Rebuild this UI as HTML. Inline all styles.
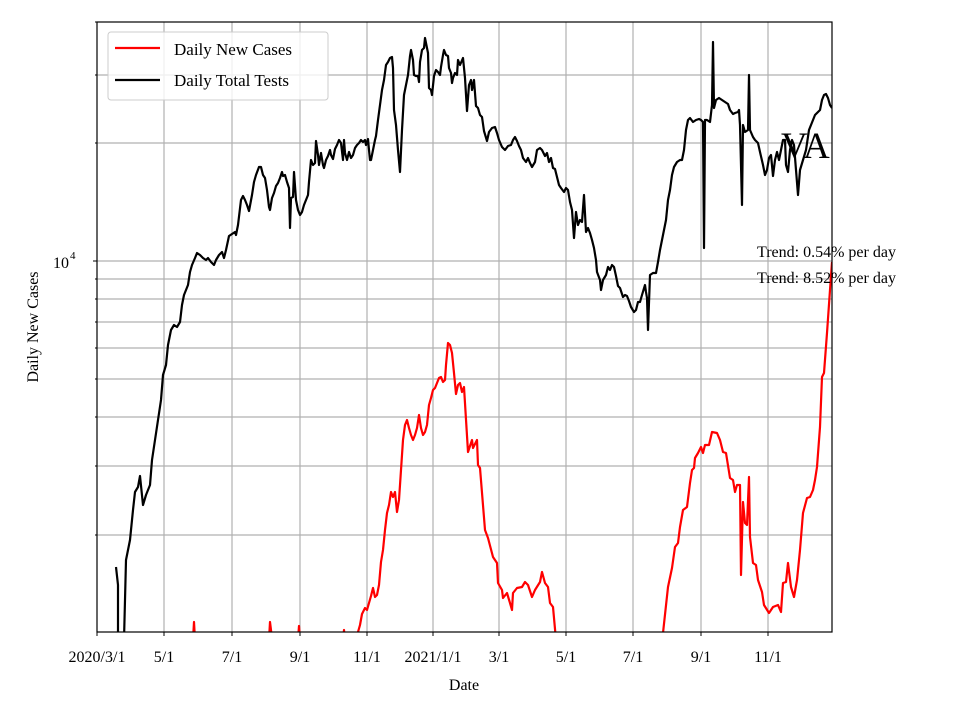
<!DOCTYPE html><html><head><style>body{margin:0;background:#fff}svg{font-family:"Liberation Serif",serif}</style></head><body>
<svg width="960" height="720" viewBox="0 0 960 720" xmlns="http://www.w3.org/2000/svg">
<rect width="960" height="720" fill="#fff"/>
<g stroke="#b0b0b0" stroke-width="1.2">
<line x1="164" y1="22" x2="164" y2="632"/><line x1="232" y1="22" x2="232" y2="632"/><line x1="300" y1="22" x2="300" y2="632"/><line x1="367" y1="22" x2="367" y2="632"/><line x1="433" y1="22" x2="433" y2="632"/><line x1="499" y1="22" x2="499" y2="632"/><line x1="566" y1="22" x2="566" y2="632"/><line x1="633" y1="22" x2="633" y2="632"/><line x1="701" y1="22" x2="701" y2="632"/><line x1="768" y1="22" x2="768" y2="632"/>
<line x1="97" y1="75" x2="832" y2="75"/><line x1="97" y1="143" x2="832" y2="143"/><line x1="97" y1="261" x2="832" y2="261"/><line x1="97" y1="279" x2="832" y2="279"/><line x1="97" y1="299" x2="832" y2="299"/><line x1="97" y1="322" x2="832" y2="322"/><line x1="97" y1="348" x2="832" y2="348"/><line x1="97" y1="379" x2="832" y2="379"/><line x1="97" y1="417" x2="832" y2="417"/><line x1="97" y1="466" x2="832" y2="466"/><line x1="97" y1="535" x2="832" y2="535"/>
</g>
<svg x="97" y="22" width="735" height="610" viewBox="97 22 735 610" overflow="hidden">
<g fill="none" stroke-width="2.2" stroke-linejoin="round">
<polyline stroke="#000" points="116,567 118,585 118,640 124,640 126,560 130,540 133,510 135,492 138,487 140,476 143,505 146,495 150,485 152,460 155,440 158,420 161,400 163,375 166,365 168,345 171,330 174,325 177,327 180,322 182,305 184,295 186,290 188,285 190,272 192,265 195,258 197,253 200,255 203,258 206,260 208,258 211,262 214,265 216,260 219,255 222,252 224,258 226,250 229,236 232,234 235,232 236,235 238,225 241,200 243,196 245,200 247,205 249,211 252,195 254,182 256,175 259,167 261,167 263,175 265,178 267,190 269,207 270,210 272,198 274,193 276,186 278,183 280,178 282,172 283,176 285,175 287,182 289,188 290,228 291,198 293,197 294,172 296,200 298,210 300,215 302,212 304,205 306,200 308,195 309,182 311,160 313,165 315,163 316,141 318,155 319,165 321,153 323,165 324,168 326,160 328,156 330,150 331,155 333,159 335,149 337,145 339,140 341,143 343,160 344,140 345,153 347,160 349,152 351,158 353,155 355,148 357,145 359,143 361,140 363,142 365,140 366,145 368,139 369,150 370,160 371,160 373,150 375,140 376,136 378,120 380,105 382,90 384,80 386,65 388,62 390,58 392,57 393,68 394,110 396,125 398,150 400,172 402,130 404,95 406,85 408,75 410,56 411,50 413,60 414,75 416,76 418,76 419,82 420,62 422,50 424,48 425,38 427,48 428,53 429,88 431,90 432,95 434,76 436,70 438,72 440,75 441,67 443,55 444,50 446,55 448,56 449,68 451,73 452,83 453,78 455,73 457,75 458,60 460,65 463,58 465,78 467,111 469,85 471,80 472,90 474,80 476,106 478,108 480,115 482,117 484,131 487,141 489,132 492,128 495,127 497,133 499,140 502,147 505,150 508,146 511,145 513,140 515,137 517,141 519,146 521,150 523,158 526,162 528,158 530,163 532,167 535,162 537,150 540,148 542,150 545,156 547,153 549,162 551,158 553,168 555,169 557,177 559,185 561,188 564,192 566,188 568,190 570,202 572,210 574,238 576,212 578,225 580,220 582,222 584,195 586,232 588,228 590,233 592,240 594,248 596,260 597,272 600,280 601,290 603,280 606,275 608,267 610,270 612,265 614,267 616,276 618,286 620,288 623,297 625,295 627,296 629,301 631,307 634,312 636,310 638,302 640,302 642,295 645,285 646,292 647,298 648,330 650,275 653,273 656,273 658,262 660,250 662,240 664,230 666,220 668,200 670,190 672,175 674,167 677,162 680,160 682,160 684,150 686,130 688,120 690,118 693,122 696,120 699,119 701,120 703,122 704,248 705,120 707,120 710,122 712,105 713,42 714,108 716,100 719,98 722,100 725,102 728,104 730,110 733,114 735,113 738,112 739,110 740,125 742,205 743,125 745,132 748,130 749,75 750,130 753,137 755,140 758,143 760,152 763,165 765,175 767,170 769,158 771,155 773,176 775,160 777,152 779,160 781,150 783,140 785,140 786,165 788,172 790,150 792,140 794,145 796,170 798,195 800,170 803,160 806,150 809,130 811,125 813,120 815,115 818,112 820,110 822,100 824,95 826,94 828,98 830,105 832,108"/>
<polyline stroke="#f00" points="192,640 193,640 194,622 195,640"/>
<polyline stroke="#f00" points="268,640 269,640 270,622 271,630 272,640"/>
<polyline stroke="#f00" points="298,640 299,626 300,640"/>
<polyline stroke="#f00" points="343,640 344,630 345,640"/>
<polyline stroke="#f00" points="355,640 358,632 360,625 362,614 365,608 367,610 369,603 371,596 373,588 375,597 377,595 379,585 381,562 383,550 385,530 387,513 389,505 391,492 393,497 395,492 397,512 399,500 401,470 403,440 405,425 407,420 409,428 411,435 413,440 415,435 417,428 419,415 421,428 423,435 425,432 427,425 429,405 431,398 433,390 435,388 437,383 439,378 441,377 443,382 445,380 446,365 448,343 450,345 452,353 454,373 456,394 458,385 460,383 462,392 464,387 468,452 472,440 473,448 477,440 478,465 480,468 485,530 488,538 493,557 497,563 498,583 502,590 503,598 507,593 510,603 512,610 513,593 517,588 522,587 525,582 528,585 532,597 535,590 540,582 542,572 545,583 548,587 550,603 553,607 556,640"/>
<polyline stroke="#f00" points="662,640 663,633 668,587 672,568 675,547 678,543 680,527 683,510 687,507 690,483 692,470 694,468 695,458 698,453 701,447 703,453 705,445 709,445 712,432 717,433 720,440 723,452 726,453 730,478 733,480 735,492 737,485 740,485 741,575 743,502 745,523 747,525 749,477 750,537 753,563 756,565 758,580 762,592 764,605 769,613 773,607 778,605 781,612 783,583 786,582 788,563 791,587 794,597 797,580 800,550 803,513 807,498 810,497 813,490 815,480 817,467 820,427 822,377 824,373 827,333 830,290 832,262"/>
</g>
</svg>
<rect x="97" y="22" width="735" height="610" fill="none" stroke="#000" stroke-width="1.2"/>
<g stroke="#000" stroke-width="1">
<line x1="93" y1="261" x2="97" y2="261"/>
<line x1="95" y1="22" x2="97" y2="22"/><line x1="95" y1="75" x2="97" y2="75"/><line x1="95" y1="143" x2="97" y2="143"/><line x1="95" y1="279" x2="97" y2="279"/><line x1="95" y1="299" x2="97" y2="299"/><line x1="95" y1="322" x2="97" y2="322"/><line x1="95" y1="348" x2="97" y2="348"/><line x1="95" y1="379" x2="97" y2="379"/><line x1="95" y1="417" x2="97" y2="417"/><line x1="95" y1="466" x2="97" y2="466"/><line x1="95" y1="535" x2="97" y2="535"/>
<line x1="97" y1="632" x2="97" y2="636"/><line x1="164" y1="632" x2="164" y2="636"/><line x1="232" y1="632" x2="232" y2="636"/><line x1="300" y1="632" x2="300" y2="636"/><line x1="367" y1="632" x2="367" y2="636"/><line x1="433" y1="632" x2="433" y2="636"/><line x1="499" y1="632" x2="499" y2="636"/><line x1="566" y1="632" x2="566" y2="636"/><line x1="633" y1="632" x2="633" y2="636"/><line x1="701" y1="632" x2="701" y2="636"/><line x1="768" y1="632" x2="768" y2="636"/>
</g>
<g font-size="16" text-anchor="middle" fill="#000">
<text x="97" y="662">2020/3/1</text><text x="164" y="662">5/1</text><text x="232" y="662">7/1</text><text x="300" y="662">9/1</text><text x="367" y="662">11/1</text><text x="433" y="662">2021/1/1</text><text x="499" y="662">3/1</text><text x="566" y="662">5/1</text><text x="633" y="662">7/1</text><text x="701" y="662">9/1</text><text x="768" y="662">11/1</text>
<text x="464" y="690">Date</text>
<text transform="translate(38,327) rotate(-90)">Daily New Cases</text>
</g>
<text x="53" y="268" font-size="16">10</text><text x="70" y="259" font-size="11">4</text>
<rect x="108" y="32" width="220" height="68" rx="3" fill="#fff" fill-opacity="0.8" stroke="#ccc"/>
<line x1="115" y1="48" x2="160" y2="48" stroke="#f00" stroke-width="2.2"/>
<line x1="115" y1="80" x2="160" y2="80" stroke="#000" stroke-width="2.2"/>
<text x="174" y="55" font-size="17">Daily New Cases</text>
<text x="174" y="86" font-size="17">Daily Total Tests</text>
<text x="781" y="158" font-size="37">VA</text>
<text x="757" y="257" font-size="16">Trend: 0.54% per day</text>
<text x="757" y="283" font-size="16">Trend: 8.52% per day</text>
</svg>
</body></html>
